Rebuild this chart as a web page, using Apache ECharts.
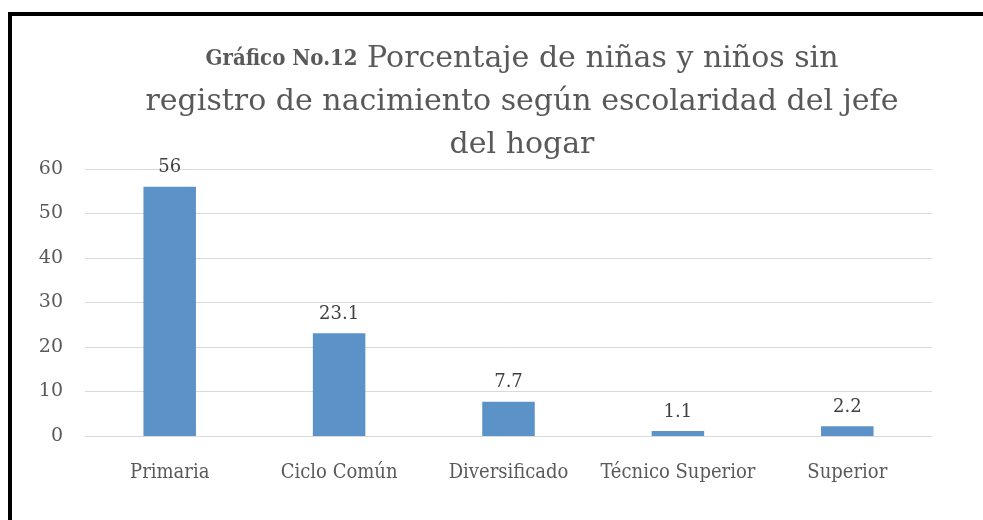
<!DOCTYPE html>
<html>
<head>
<meta charset="utf-8">
<script src="https://cdn.jsdelivr.net/npm/echarts@6/dist/echarts.min.js"></script>
<style>
html,body{margin:0;padding:0;background:#fff;}
#frame{position:absolute;left:8px;top:12px;width:975px;height:508px;border-top:4px solid #000;border-left:4px solid #000;box-sizing:border-box;}
#chart{position:absolute;left:0;top:0;width:983px;height:520px;}
</style>
</head>
<body>
<div id="frame"></div>
<div id="chart"></div>
<script>
// datos del grafico
var categorias = ['Primaria', 'Ciclo Común', 'Diversificado', 'Técnico Superior', 'Superior'];
var porcentajes = [56, 23.1, 7.7, 1.1, 2.2];
var yTicks = [0, 10, 20, 30, 40, 50, 60];

var myChart = echarts.init(document.getElementById('chart'));
var option = {
	animation: false,
	title: {
		text: '{b|Gráfico No.12} Porcentaje de niñas y niños sin\nregistro de nacimiento según escolaridad del jefe\ndel hogar',
		left: 517,
		top: 33,
		textAlign: 'center',
		textStyle: {
			fontFamily: 'DejaVu Serif',
			fontSize: 30,
			fontWeight: 'normal',
			color: '#595959',
			lineHeight: 43,
			rich: {
				b: {
					fontFamily: 'DejaVu Serif Condensed',
					fontSize: 22,
					fontWeight: 'bold',
					color: '#595959'
				}
			}
		}
	},
	grid: {
		left: 85,
		right: 51,
		top: 169,
		bottom: 84,
		containLabel: false
	},
	xAxis: {
		type: 'category',
		data: categorias,
		axisTick: {show: false},
		axisLine: {lineStyle: {color: '#d9d9d9', width: 1}},
		axisLabel: {
			interval: 0,
			fontFamily: 'DejaVu Serif Condensed',
			fontSize: 20,
			color: '#595959',
			margin: 27
		}
	},
	yAxis: {
		type: 'value',
		min: yTicks[0],
		max: yTicks[yTicks.length - 1],
		interval: 10,
		axisLine: {show: false},
		axisTick: {show: false},
		splitLine: {lineStyle: {color: '#d9d9d9', width: 1}},
		axisLabel: {
			fontFamily: 'DejaVu Serif',
			fontSize: 19,
			color: '#595959',
			margin: 22
		}
	},
	series: [{
		type: 'bar',
		data: porcentajes,
		barWidth: '31%',
		itemStyle: {color: '#5b93c9'},
		label: {
			show: true,
			position: 'top',
			distance: 10,
			fontFamily: 'DejaVu Serif',
			fontSize: 18,
			color: '#404040'
		}
	}]
};
myChart.setOption(option);
window.onresize = myChart.resize;
</script>
</body>
</html>
